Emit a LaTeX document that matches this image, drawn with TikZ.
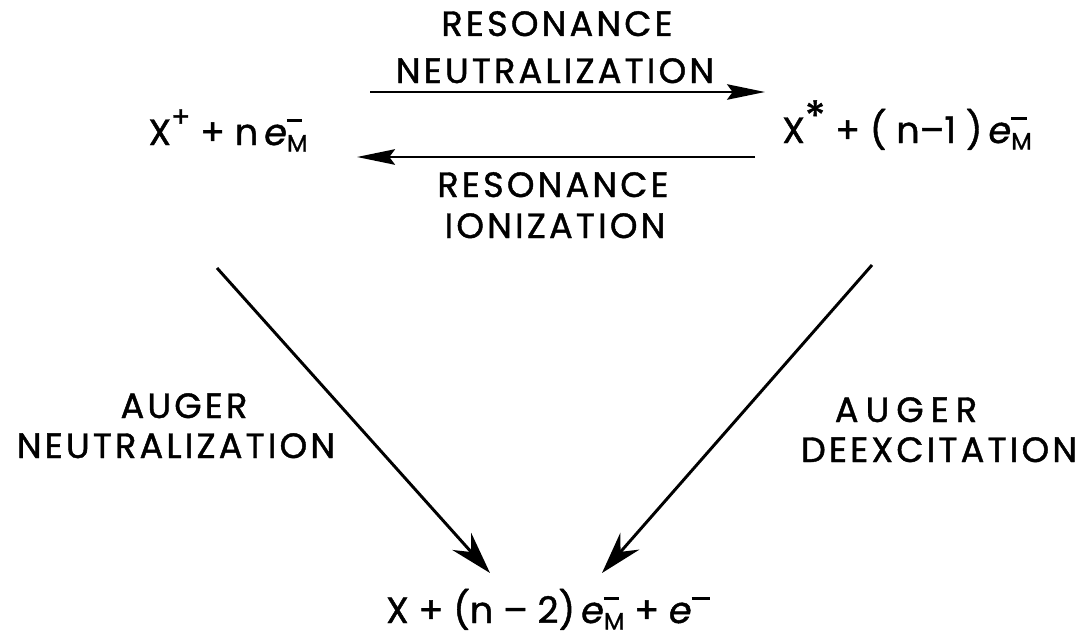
\documentclass[tikz,border=0pt]{standalone}
\usepackage{fontspec}
\setmainfont{Poppins}[FakeBold=1.2, AutoFakeBold=1.2]
\usetikzlibrary{arrows.meta}
% e with the metal subscript M and a minus bar above it
\newcommand\eM{\textit{e}\makebox[0pt][l]{\raisebox{0.62em}{\rule{0.42em}{0.08em}}}\raisebox{-0.18em}{\fontsize{17}{17}\selectfont M}}
\newcommand\emin{\textit{e}\raisebox{0.62em}{\rule{0.5em}{0.08em}}}
\newcommand\chg[1]{\raisebox{0.5em}{\fontsize{20}{20}\selectfont #1}}

\begin{document}
\begin{tikzpicture}[
  x=0.025cm, y=-0.025cm,
  lab/.style={anchor=base, inner sep=0pt,
              font=\fontsize{25}{25}\selectfont\addfontfeature{LetterSpace=9}},
  wide/.style={lab, font=\fontsize{25}{25}\selectfont\addfontfeature{LetterSpace=20}},
  form/.style={anchor=base, inner sep=0pt, font=\fontsize{26}{26}\selectfont},
  flat/.style={-{Stealth[length=27pt,width=11pt,inset=4pt]}, line width=1.7pt},
  diag/.style={-{Stealth[length=30pt,width=18pt,inset=10pt]}, line width=2.1pt},
]
\useasboundingbox (0,0) rectangle (1084,637);

% ---------------- the three states ----------------
\node[form] (ion) at (228,145) {X\chg{+} + n\,\eM};
\node[form] (exc) at (907,143) {X\raisebox{0.32em}{\fontsize{30}{30}\selectfont\textbf{*}} + ( n--1 )\,\eM};
\node[form] (neu) at (548,623) {X + (n -- 2)\,\eM\ + \emin};

% ---------------- resonance pair ----------------
\node[lab] (rn1) at (557,36) {RESONANCE};
\node[lab] (rn2) at (555,83) {NEUTRALIZATION};
\node[lab] (ri1) at (553,197) {RESONANCE};
\node[lab] (ri2) at (555,238) {IONIZATION};

\coordinate (rn-s) at (370,92);
\coordinate (rn-e) at (765,92);
\coordinate (ri-s) at (755,157);
\coordinate (ri-e) at (357,157);
\draw[flat] (rn-s) -- (rn-e);
\draw[flat] (ri-s) -- (ri-e);

% ---------------- auger processes ----------------
\node[lab] (an1) at (184,418) {AUGER};
\node[lab] (an2) at (176,458) {NEUTRALIZATION};
\node[wide] (ad1) at (906,422) {AUGER};
\node[lab] (ad2) at (939,462) {DEEXCITATION};

\coordinate (an-s) at (217,268);
\coordinate (an-e) at (490,573);
\coordinate (ad-s) at (872,265);
\coordinate (ad-e) at (602,573);
\draw[diag] (an-s) -- (an-e);
\draw[diag] (ad-s) -- (ad-e);

\end{tikzpicture}
\end{document}
